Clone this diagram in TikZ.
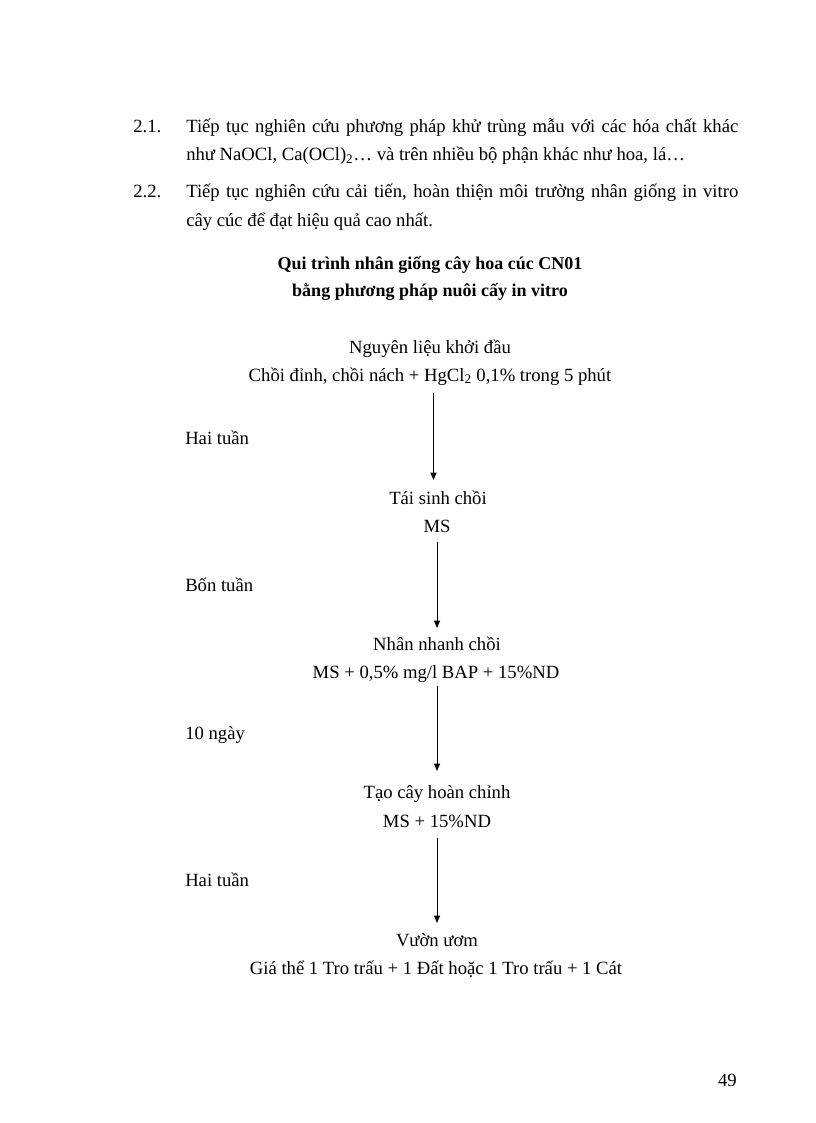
\documentclass[tikz,border=0pt]{standalone}
\usepackage{fontspec}
\setmainfont{Liberation Serif}
\usetikzlibrary{arrows.meta}
\begin{document}
\begin{tikzpicture}[x=0.75pt,y=-0.75pt,
  every node/.style={inner sep=0pt, font=\fontsize{14pt}{16pt}\selectfont},
  txt/.style={anchor=base},
  lbl/.style={anchor=base west},
  ttl/.style={anchor=base, font=\fontsize{13.5pt}{16pt}\selectfont\bfseries},
  arr/.style={line width=0.75pt, -{Triangle[length=5.5pt,width=4.5pt]}}]
\useasboundingbox (0,0) rectangle (816,1123);
% paragraphs
\node[lbl] (n21) at (133,133) {2.1.};
\node[lbl] (p21a) at (186,133) {\makebox[414pt][s]{Tiếp tục nghiên cứu phương pháp khử trùng mẫu với các hóa chất khác}};
\node[lbl] (p21b) at (186,161) {như NaOCl, Ca(OCl)\textsubscript{2}… và trên nhiều bộ phận khác như hoa, lá…};
\node[lbl] (n22) at (133,198) {2.2.};
\node[lbl] (p22a) at (186,198) {\makebox[414pt][s]{Tiếp tục nghiên cứu cải tiến, hoàn thiện môi trường nhân giống in vitro}};
\node[lbl] (p22b) at (186,227) {cây cúc để đạt hiệu quả cao nhất.};
% title
\node[ttl] (t1) at (430,269) {Qui trình nhân giống cây hoa cúc CN01};
\node[ttl] (t2) at (430,296) {bằng phương pháp nuôi cấy in vitro};
% steps
\node[txt] (s1a) at (430,353) {Nguyên liệu khởi đầu};
\node[txt] (s1b) at (430,381) {Chồi đỉnh, chồi nách + HgCl\textsubscript{2} 0,1\% trong 5 phút};
\node[txt] (s2a) at (438,504) {Tái sinh chồi};
\node[txt] (s2b) at (437,532) {MS};
\node[txt] (s3a) at (437,650) {Nhân nhanh chồi};
\node[txt] (s3b) at (436,678) {MS + 0,5\% mg/l BAP + 15\%ND};
\node[txt] (s4a) at (437,798) {Tạo cây hoàn chỉnh};
\node[txt] (s4b) at (437,827) {MS + 15\%ND};
\node[txt] (s5a) at (437,946) {Vườn ươm};
\node[txt] (s5b) at (436,974) {Giá thể 1 Tro trấu + 1 Đất hoặc 1 Tro trấu + 1 Cát};
% durations
\node[lbl] (d1) at (185,444) {Hai tuần};
\node[lbl] (d2) at (185,591) {Bốn tuần};
\node[lbl] (d3) at (185,739) {10 ngày};
\node[lbl] (d4) at (185,886) {Hai tuần};
% page number
\node[anchor=base east] (pg) at (737,1086) {49};
% arrows
\coordinate (a1s) at (433.5,393);
\coordinate (a1e) at (433.5,480);
\coordinate (a2s) at (437,542);
\coordinate (a2e) at (437,628);
\coordinate (a3s) at (437,686);
\coordinate (a3e) at (437,771);
\coordinate (a4s) at (437,838);
\coordinate (a4e) at (437,923);
\draw[arr] (a1s) -- (a1e);
\draw[arr] (a2s) -- (a2e);
\draw[arr] (a3s) -- (a3e);
\draw[arr] (a4s) -- (a4e);
\end{tikzpicture}
\end{document}
